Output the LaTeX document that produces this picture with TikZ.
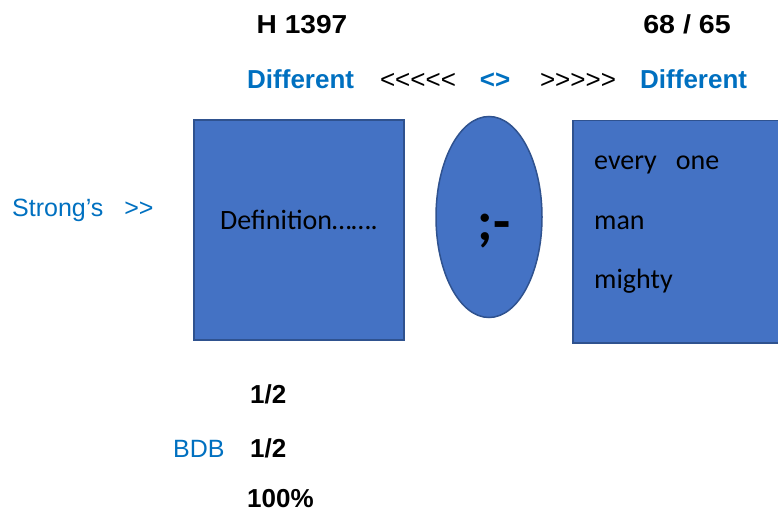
\documentclass[tikz,border=0pt]{standalone}
\usepackage{fontspec}
\setmainfont{Liberation Sans}
\newfontfamily\calib{Carlito}
\usetikzlibrary{shapes.geometric}
\definecolor{boxblue}{HTML}{4472C4}
\definecolor{boxedge}{HTML}{2F528F}
\definecolor{txtblue}{HTML}{0070C0}
\newcommand\fs[1]{\fontsize{#1}{#1}\selectfont}

\begin{document}
\begin{tikzpicture}[x=1pt,y=-1pt,
  hd/.style={font=\fs{26}\bfseries,inner sep=0pt,anchor=base},
  tag/.style={font=\fs{26}\bfseries,text=txtblue,inner sep=0pt,anchor=base west},
  chev/.style={font=\fs{26},inner sep=0pt,anchor=base},
  side/.style={font=\fs{25},text=txtblue,inner sep=0pt,anchor=base west},
  num/.style={font=\fs{26}\bfseries,inner sep=0pt,anchor=base west},
  body/.style={font=\calib\fs{28},inner sep=0pt,anchor=base west},
  blk/.style={draw=boxedge,fill=boxblue,line width=1.5,inner sep=0pt}]
\useasboundingbox(0,0)rectangle(778,513);
% headings
\node[hd](hnum)at(302,34){\scalebox{1.08}[1]{H 1397}};
\node[hd](cnt)at(687,34){\scalebox{1.1}[1]{68 / 65}};
\node[tag](difl)at(247,89){Different};\node[tag](difr)at(640,89){Different};
\node[chev](lt)at(418,89){<{}<{}<{}<{}<};
\node[chev,font=\fs{26}\bfseries,text=txtblue](mid)at(495,89){<{}>};
\node[chev](gt)at(578,89){>{}>{}>{}>{}>};
% boxes
\node[blk,minimum width=210,minimum height=220](defbox)at(299,230){};
\node[blk,ellipse,minimum width=106,minimum height=201](oval)at(489,217){};
\node[blk,anchor=north west,minimum width=230,minimum height=222](wordbox)at(572,120){};
\node[font=\calib\fs{28},inner sep=0pt,anchor=base](def)at(defbox.center|-0,229){Definition\dots\dots.};
\node[font=\calib\bfseries\fs{56},inner sep=0pt,anchor=base](semi)at(494,240){;-};
\node[body](w1)at(594,169){every\ \ \ one};
\node[body](w2)at(594,229){man};
\node[body](w3)at(594,288){mighty};
% left labels
\node[side](strong)at(12,216){Strong’s\ \ \ >{}>};
\node[side](bdb)at(173,457){BDB};
% figures below
\node[num](r1)at(250,403){1/2};
\node[num](r2)at(250,457){1/2};
\node[num](pct)at(247,507){100\%};
\end{tikzpicture}
\end{document}
